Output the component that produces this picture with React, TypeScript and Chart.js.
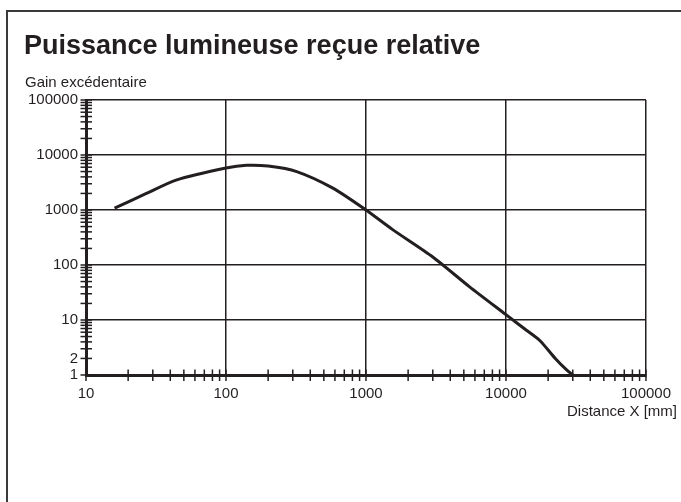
import React, { useEffect, useRef } from "react";
import { Chart, registerables } from "chart.js";

Chart.register(...registerables);

// ---- data ----
const distances = [16, 27, 44, 100, 140, 200, 320, 580, 1000, 1550, 3000, 5500, 10000, 14000, 17500, 22500, 27000, 30000];
const gains = [1080, 2000, 3500, 5800, 6500, 6300, 5000, 2500, 1000, 440, 140, 40, 12.5, 6.5, 4.2, 2.0, 1.25, 1.0];
const xLabelValues = [10, 100, 1000, 10000, 100000];
const yLabelValues = [1, 2, 10, 100, 1000, 10000, 100000];
const titleText = "Puissance lumineuse reçue relative";
const yTitleText = "Gain excédentaire";
const xTitleText = "Distance X [mm]";

const FONT = "'Liberation Sans', Arial, Helvetica, sans-serif";
const INK = "#231f20";

function logTicks(min: number, max: number) {
  const t: { value: number }[] = [];
  for (let d = min; d < max; d *= 10) {
    for (let m = 1; m < 10; m++) t.push({ value: m * d });
  }
  t.push({ value: max });
  return t;
}

function isDecade(v: number | undefined) {
  if (v === undefined || v <= 0) return false;
  const l = Math.log10(v);
  return Math.abs(l - Math.round(l)) < 1e-9;
}

const decorPlugin = {
  id: "decor",
  afterDraw(chart: any) {
    const ctx = chart.ctx as CanvasRenderingContext2D;
    const area = chart.chartArea;
    const xs = chart.scales.x;
    const ys = chart.scales.y;
    ctx.save();
    // frame
    ctx.strokeStyle = "#3a3a3a";
    ctx.lineWidth = 2;
    ctx.strokeRect(7, 11, 800, 600);
    // tick marks crossing axes
    ctx.strokeStyle = INK;
    ctx.lineWidth = 1.5;
    for (const t of xs.ticks) {
      const px = xs.getPixelForValue(t.value);
      ctx.beginPath();
      ctx.moveTo(px, area.bottom - 5.5);
      ctx.lineTo(px, area.bottom + 6);
      ctx.stroke();
    }
    for (const t of ys.ticks) {
      const py = ys.getPixelForValue(t.value);
      ctx.beginPath();
      ctx.moveTo(area.left - 5.5, py);
      ctx.lineTo(area.left + 6, py);
      ctx.stroke();
    }
    // texts
    ctx.fillStyle = INK;
    ctx.textBaseline = "alphabetic";
    ctx.textAlign = "left";
    ctx.font = `bold 27px ${FONT}`;
    ctx.fillText(titleText, 24, 54);
    ctx.font = `15px ${FONT}`;
    ctx.fillText(yTitleText, 25, 87);
    ctx.textAlign = "right";
    ctx.fillText(xTitleText, 677, 416);
    ctx.restore();
  },
};

export default function App() {
  const ref = useRef<HTMLCanvasElement | null>(null);
  useEffect(() => {
    document.body.style.margin = "0";
    if (!ref.current) return;
    const chart = new Chart(ref.current, {
      type: "line",
      data: {
        datasets: [
          {
            data: distances.map((d, i) => ({ x: d, y: gains[i] })),
            borderColor: INK,
            borderWidth: 3,
            pointRadius: 0,
            tension: 0.25,
            fill: false,
          },
        ],
      },
      options: {
        animation: false,
        responsive: false,
        devicePixelRatio: 1,
        layout: { padding: { left: 0, top: 100, right: 33, bottom: 0 } },
        plugins: { legend: { display: false }, tooltip: { enabled: false }, title: { display: false } },
        scales: {
          x: {
            type: "logarithmic",
            min: 10,
            max: 100000,
            afterBuildTicks: (s: any) => {
              s.ticks = logTicks(10, 100000);
            },
            afterFit: (s: any) => {
              s.height = 127;
            },
            ticks: {
              autoSkip: false,
              maxRotation: 0,
              padding: 10,
              color: INK,
              font: { size: 15, family: FONT },
              callback: (v: any) => (xLabelValues.includes(Number(v)) ? String(v) : ""),
            },
            grid: {
              drawTicks: false,
              lineWidth: 1.5,
              color: (c: any) => (isDecade(c.tick?.value) ? INK : "rgba(0,0,0,0)"),
            },
            border: { color: INK, width: 3 },
          },
          y: {
            type: "logarithmic",
            min: 1,
            max: 100000,
            afterBuildTicks: (s: any) => {
              s.ticks = logTicks(1, 100000);
            },
            afterFit: (s: any) => {
              s.width = 86;
            },
            ticks: {
              autoSkip: false,
              padding: 8,
              color: INK,
              font: { size: 15, family: FONT },
              callback: (v: any) => (yLabelValues.includes(Number(v)) ? String(v) : ""),
            },
            grid: {
              drawTicks: false,
              lineWidth: 1.5,
              color: (c: any) => (isDecade(c.tick?.value) ? INK : "rgba(0,0,0,0)"),
            },
            border: { color: INK, width: 3 },
          },
        },
      } as any,
      plugins: [decorPlugin],
    });
    return () => chart.destroy();
  }, []);
  return (
    <div style={{ position: "absolute", left: 0, top: 0, width: 681, height: 502, background: "#fff" }}>
      <canvas ref={ref} width={681} height={502} style={{ display: "block" }} />
    </div>
  );
}
